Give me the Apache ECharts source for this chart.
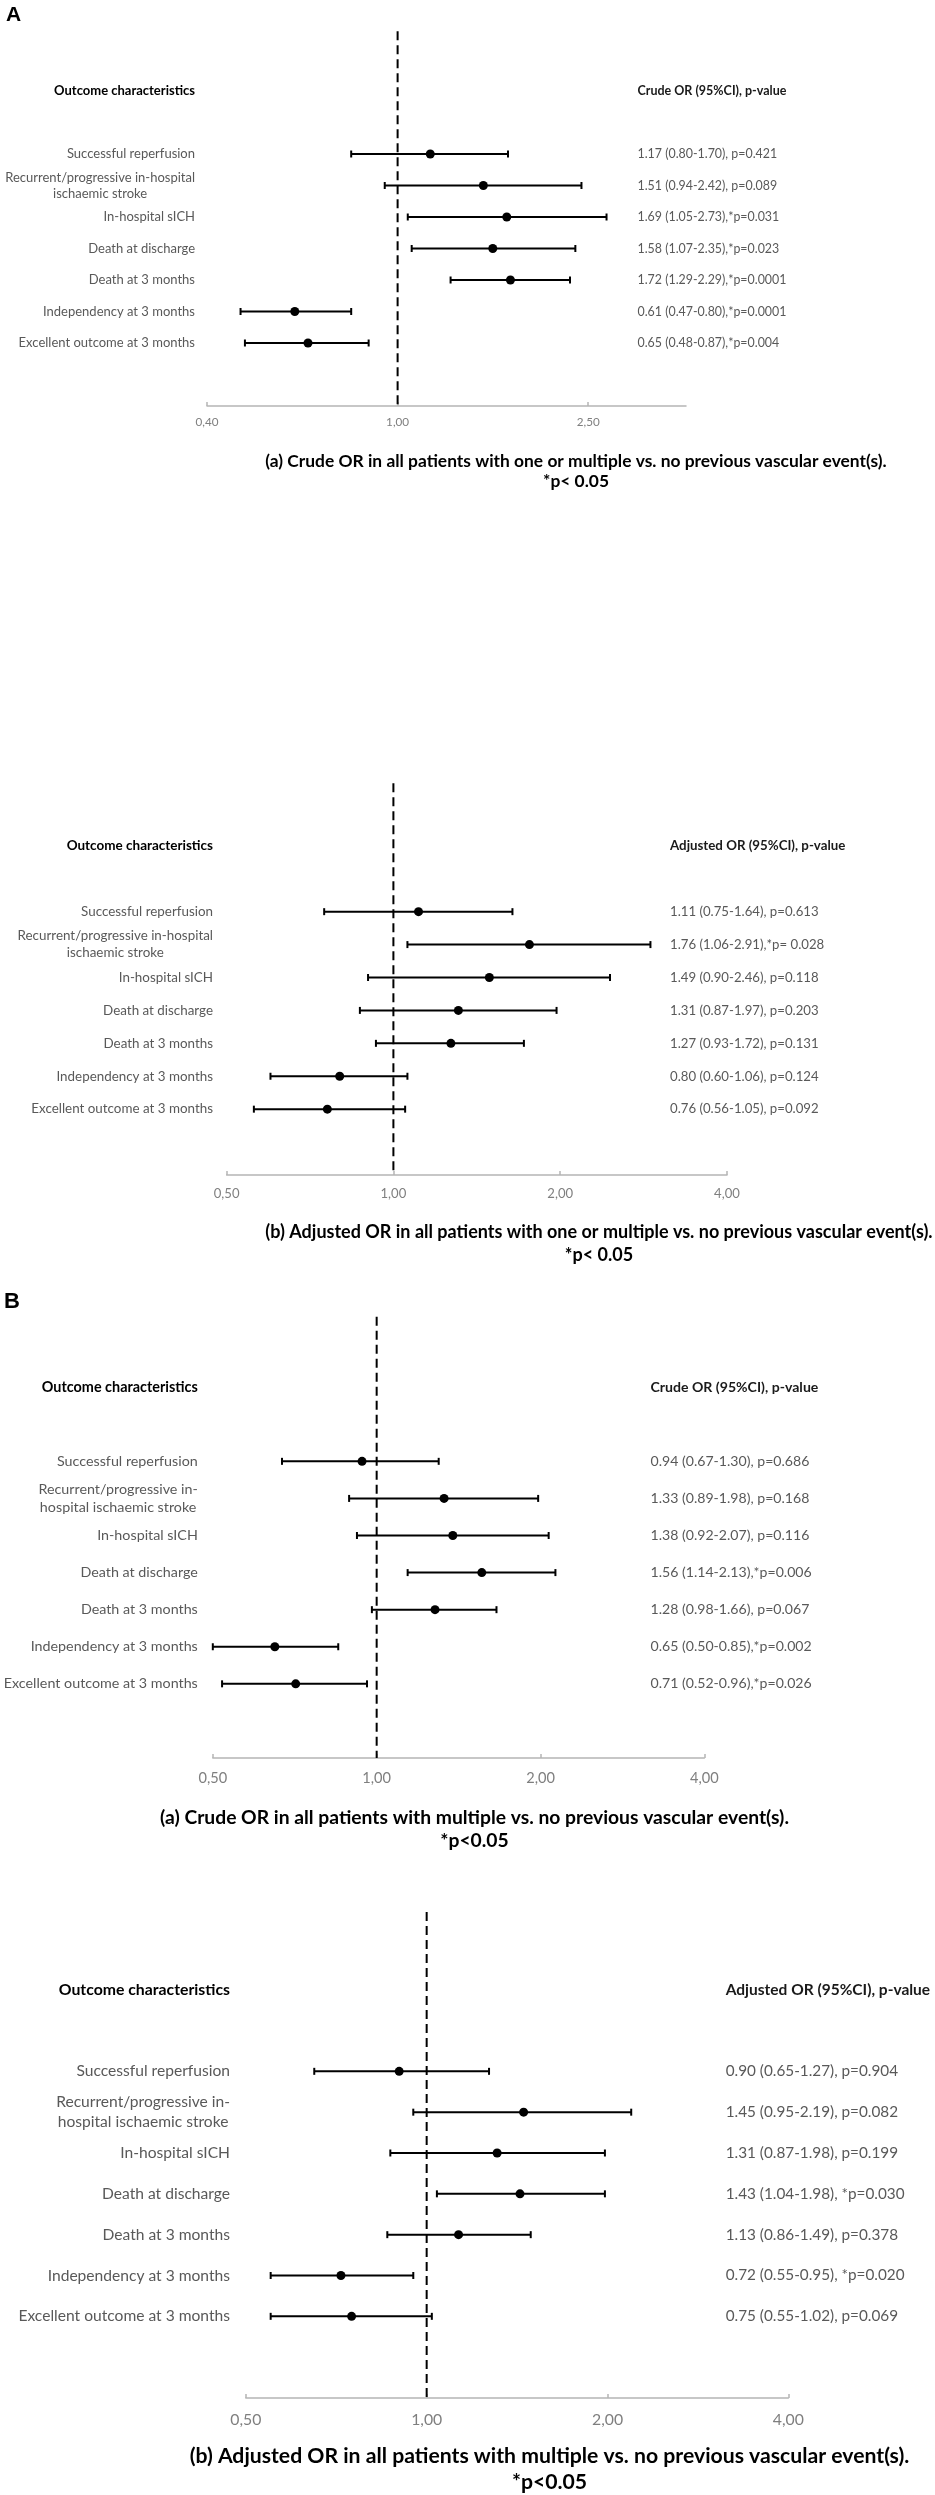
<!DOCTYPE html>
<html>
<head>
<meta charset="UTF-8">
<title>Forest plots - outcomes by previous vascular events</title>
<style>
html, body { margin: 0; padding: 0; background: #fff; }
#main { width: 935px; height: 2495px; }
</style>
</head>
<body>
<div id="main"></div>
<script src="https://cdn.jsdelivr.net/npm/echarts@6/dist/echarts.min.js"></script>
<script>
// row labels (panel A and panel B break the long label differently)
var outcomesA = ['Successful reperfusion', 'Recurrent/progressive in-hospital\nischaemic stroke', 'In-hospital sICH',
  'Death at discharge', 'Death at 3 months', 'Independency at 3 months', 'Excellent outcome at 3 months'];
var outcomesB = ['Successful reperfusion', 'Recurrent/progressive in-\nhospital ischaemic stroke', 'In-hospital sICH',
  'Death at discharge', 'Death at 3 months', 'Independency at 3 months', 'Excellent outcome at 3 months'];

// A (a) crude OR, one or multiple vs. none
var orAa = [1.17, 1.51, 1.69, 1.58, 1.72, 0.61, 0.65];
var loAa = [0.80, 0.94, 1.05, 1.07, 1.29, 0.47, 0.48];
var hiAa = [1.70, 2.42, 2.73, 2.35, 2.29, 0.80, 0.87];
var txtAa = ['1.17 (0.80-1.70), p=0.421', '1.51 (0.94-2.42), p=0.089', '1.69 (1.05-2.73),*p=0.031', '1.58 (1.07-2.35),*p=0.023',
  '1.72 (1.29-2.29),*p=0.0001', '0.61 (0.47-0.80),*p=0.0001', '0.65 (0.48-0.87),*p=0.004'];

// A (b) adjusted OR, one or multiple vs. none
var orAb = [1.11, 1.76, 1.49, 1.31, 1.27, 0.80, 0.76];
var loAb = [0.75, 1.06, 0.90, 0.87, 0.93, 0.60, 0.56];
var hiAb = [1.64, 2.91, 2.46, 1.97, 1.72, 1.06, 1.05];
var txtAb = ['1.11 (0.75-1.64), p=0.613', '1.76 (1.06-2.91),*p= 0.028', '1.49 (0.90-2.46), p=0.118', '1.31 (0.87-1.97), p=0.203',
  '1.27 (0.93-1.72), p=0.131', '0.80 (0.60-1.06), p=0.124', '0.76 (0.56-1.05), p=0.092'];

// B (a) crude OR, multiple vs. none
var orBa = [0.94, 1.33, 1.38, 1.56, 1.28, 0.65, 0.71];
var loBa = [0.67, 0.89, 0.92, 1.14, 0.98, 0.50, 0.52];
var hiBa = [1.30, 1.98, 2.07, 2.13, 1.66, 0.85, 0.96];
var txtBa = ['0.94 (0.67-1.30), p=0.686', '1.33 (0.89-1.98), p=0.168', '1.38 (0.92-2.07), p=0.116', '1.56 (1.14-2.13),*p=0.006',
  '1.28 (0.98-1.66), p=0.067', '0.65 (0.50-0.85),*p=0.002', '0.71 (0.52-0.96),*p=0.026'];

// B (b) adjusted OR, multiple vs. none
var orBb = [0.90, 1.45, 1.31, 1.43, 1.13, 0.72, 0.75];
var loBb = [0.65, 0.95, 0.87, 1.04, 0.86, 0.55, 0.55];
var hiBb = [1.27, 2.19, 1.98, 1.98, 1.49, 0.95, 1.02];
var txtBb = ['0.90 (0.65-1.27), p=0.904', '1.45 (0.95-2.19), p=0.082', '1.31 (0.87-1.98), p=0.199', '1.43 (1.04-1.98), *p=0.030',
  '1.13 (0.86-1.49), p=0.378', '0.72 (0.55-0.95), *p=0.020', '0.75 (0.55-1.02), p=0.069'];

// x axis (log) range per panel: min, max, log base
var axisAa = [0.4, 4, 2.5];
var axisAb = [0.5, 4, 2];
var axisBa = [0.5, 4, 2];
var axisBb = [0.5, 4, 2];

var FONT = 'Lato';

// font sizes are picked so that text widths match the original figure
var ctx = document.createElement('canvas').getContext('2d');
function fit(text, w, bold) {
  ctx.font = (bold ? 'bold ' : '') + '100px ' + FONT;
  return Math.round(1000 * w / ctx.measureText(text).width) / 10;
}

var panels = [
  {names: outcomesA, or: orAa, lo: loAa, hi: hiAa, txt: txtAa, ax: axisAa, head: 'Crude OR (95%CI), p-value',
   top: 28, height: 378, left: 207, right: 249, lh: 16, tm: 10, lm: 12, txtLeft: 637.5, hideMax: true,
   w: [128, 141, 140, 148.7, 23, 620],
   cap: '(a) Crude OR in all patients with one or multiple vs. no previous vascular event(s).', cap2: '*p< 0.05',
   cx: 576, cy: 461, cy2: 481},
  {names: outcomesA, or: orAb, lo: loAb, hi: hiAb, txt: txtAb, ax: axisAb, head: 'Adjusted OR (95%CI), p-value',
   top: 780, height: 395, left: 226.6, right: 208, lh: 17, tm: 12, lm: 13.6, txtLeft: 670, hideMax: false,
   w: [132, 146, 148.7, 175.7, 25.8, 667],
   cap: '(b) Adjusted OR in all patients with one or multiple vs. no previous vascular event(s).', cap2: '*p< 0.05',
   cx: 599, cy: 1232, cy2: 1255},
  {names: outcomesB, or: orBa, lo: loBa, hi: hiBa, txt: txtBa, ax: axisBa, head: 'Crude OR (95%CI), p-value',
   top: 1313, height: 445, left: 212.8, right: 230.6, lh: 18.5, tm: 13, lm: 15, txtLeft: 650.5, hideMax: false,
   w: [141, 156, 158.9, 168, 28.8, 631],
   cap: '(a) Crude OR in all patients with multiple vs. no previous vascular event(s).', cap2: '*p<0.05',
   cx: 474.5, cy: 1818, cy2: 1841},
  {names: outcomesB, or: orBb, lo: loBb, hi: hiBb, txt: txtBb, ax: axisBb, head: 'Adjusted OR (95%CI), p-value',
   top: 1908, height: 490, left: 245.8, right: 146.6, lh: 20, tm: 14, lm: 15.8, txtLeft: 725.7, hideMax: false,
   w: [154, 171, 172, 204, 31, 721],
   cap: '(b) Adjusted OR in all patients with multiple vs. no previous vascular event(s).', cap2: '*p<0.05',
   cx: 549.5, cy: 2456, cy2: 2482}
];

function renderBar(params, api) {
  var y = api.value(3);
  var p = api.coord([api.value(0), y]);
  var l = api.coord([api.value(1), y]);
  var r = api.coord([api.value(2), y]);
  var c = 3.5;
  var st = {stroke: '#000', lineWidth: 2};
  return {
    type: 'group',
    children: [
      {type: 'line', shape: {x1: l[0], y1: l[1], x2: r[0], y2: r[1]}, style: st},
      {type: 'line', shape: {x1: l[0], y1: l[1] - c, x2: l[0], y2: l[1] + c}, style: st},
      {type: 'line', shape: {x1: r[0], y1: r[1] - c, x2: r[0], y2: r[1] + c}, style: st},
      {type: 'circle', shape: {cx: p[0], cy: p[1], r: 4.5}, style: {fill: '#000'}}
    ]
  };
}

var grids = [], xAxes = [], yAxes = [], series = [], graphics = [];

panels.forEach(function (pn, k) {
  var fs = fit('Successful reperfusion', pn.w[0]);
  var hfs = fit('Outcome characteristics', pn.w[1], true);
  var vfs = fit(pn.txt[0], pn.w[2]);
  var rfs = fit(pn.head, pn.w[3], true);
  var tfs = fit('0,50', pn.w[4]);
  var cfs = fit(pn.cap, pn.w[5], true);

  grids.push({left: pn.left, right: pn.right, top: pn.top, height: pn.height});

  xAxes.push({
    type: 'log', gridIndex: k, logBase: pn.ax[2], min: pn.ax[0], max: pn.ax[1],
    axisLine: {onZero: false, lineStyle: {color: '#b5b5b5', width: 1.5}},
    axisTick: {inside: true, length: 4, lineStyle: {color: '#b5b5b5', width: 1.5}},
    splitLine: {show: false},
    axisLabel: {
      color: '#7f7f7f', fontSize: tfs, fontFamily: FONT, margin: pn.tm, showMaxLabel: !pn.hideMax,
      formatter: function (v) { return (+v).toFixed(2).replace('.', ','); }
    }
  });

  // left: outcome names (and the column header at -2)
  yAxes.push({
    type: 'value', gridIndex: k, inverse: true, min: -4, max: 8, interval: 1,
    axisLine: {show: false}, axisTick: {show: false}, splitLine: {show: false},
    axisLabel: {
      margin: pn.lm, color: '#595959', fontSize: fs, fontFamily: FONT,
      formatter: function (v) {
        if (v === -2) return '{h|Outcome characteristics}';
        var n = pn.names[v];
        if (!n) return '';
        return n.split('\n').map(function (s) { return '{c|' + s + '}'; }).join('\n');
      },
      rich: {
        h: {fontWeight: 'bold', color: '#000', fontSize: hfs, fontFamily: FONT},
        c: {align: 'center', color: '#595959', fontSize: fs, lineHeight: pn.lh, fontFamily: FONT}
      }
    }
  });

  // right: OR (95%CI), p-value text column
  yAxes.push({
    type: 'value', gridIndex: k, position: 'right', inverse: true, min: -4, max: 8, interval: 1,
    offset: pn.txtLeft - (935 - pn.right),
    axisLine: {show: false}, axisTick: {show: false}, splitLine: {show: false},
    axisLabel: {
      margin: 0, align: 'left', color: '#595959', fontSize: vfs, fontFamily: FONT,
      formatter: function (v) {
        if (v === -2) return '{h|' + pn.head + '}';
        return pn.txt[v] || '';
      },
      rich: {h: {fontWeight: 'bold', color: '#1a1a1a', fontSize: rfs, fontFamily: FONT}}
    }
  });

  // dashed line of no effect (OR = 1)
  series.push({
    type: 'line', xAxisIndex: k, yAxisIndex: 2 * k, silent: true, symbol: 'none',
    data: [[1, -3.9], [1, 8]],
    lineStyle: {color: '#000', width: 2, type: [9, 5]}
  });

  series.push({
    type: 'custom', xAxisIndex: k, yAxisIndex: 2 * k, silent: true,
    renderItem: renderBar,
    encode: {x: [0, 1, 2], y: 3},
    data: pn.or.map(function (v, i) { return [v, pn.lo[i], pn.hi[i], i]; })
  });

  graphics.push({
    type: 'text', x: pn.cx, y: pn.cy,
    style: {text: pn.cap, align: 'center', verticalAlign: 'middle', fontSize: cfs, fontWeight: 'bold', fontFamily: FONT, fill: '#000'}
  });
  graphics.push({
    type: 'text', x: pn.cx, y: pn.cy2,
    style: {text: pn.cap2, align: 'center', verticalAlign: 'middle', fontSize: cfs, fontWeight: 'bold', fontFamily: FONT, fill: '#000'}
  });
});

graphics.push({type: 'text', x: 6, y: 15,
  style: {text: 'A', verticalAlign: 'middle', fontSize: 21, fontWeight: 'bold', fontFamily: 'Liberation Sans', fill: '#000'}});
graphics.push({type: 'text', x: 4, y: 1302,
  style: {text: 'B', verticalAlign: 'middle', fontSize: 22, fontWeight: 'bold', fontFamily: 'Liberation Sans', fill: '#000'}});

var myChart = echarts.init(document.getElementById('main'), null, {renderer: 'canvas'});
myChart.setOption({
  animation: false,
  backgroundColor: '#fff',
  textStyle: {fontFamily: FONT},
  grid: grids,
  xAxis: xAxes,
  yAxis: yAxes,
  series: series,
  graphic: graphics
});
</script>
</body>
</html>
